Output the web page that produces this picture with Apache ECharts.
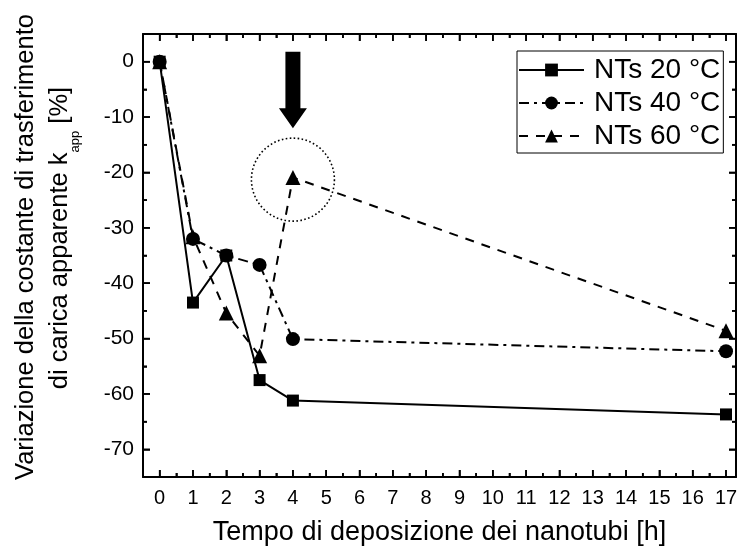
<!DOCTYPE html>
<html>
<head>
<meta charset="utf-8">
<script src="https://cdn.jsdelivr.net/npm/echarts@6/dist/echarts.min.js"></script>
<style>html,body{margin:0;padding:0;background:#fff}#c{width:739px;height:549px}</style>
</head>
<body>
<div id="c"></div>
<script>
// ---- data ----
var hours = [0, 1, 2, 3, 4, 17];
var nt20 = [0, -43.5, -35, -57.5, -61.2, -63.7];
var nt40 = [0, -32, -35, -36.7, -50.1, -52.3];
var nt60 = [0, -31.6, -45.4, -53.1, -20.9, -48.6];
var seriesNames = ['NTs 20 °C', 'NTs 40 °C', 'NTs 60 °C'];
var xMajor = [0,1,2,3,4,5,6,7,8,9,10,11,12,13,14,15,16,17];
var xMinor = [0.5,1.5,2.5,3.5,4.5,5.5,6.5,7.5,8.5,9.5,10.5,11.5,12.5,13.5,14.5,15.5,16.5];
var yMajor = [-70,-60,-50,-40,-30,-20,-10,0];
var yMinor = [-75,-65,-55,-45,-35,-25,-15,-5,5];
var arrowPt = [4, 1.8, -12];      // x, top value, tip value
var circlePt = [4, -21.3];        // highlighted point area

var FONT = 'Liberation Sans, Arial, sans-serif';
var chart = echarts.init(document.getElementById('c'));

function mk(arr, xs) { return xs.map(function (x, i) { return [x, arr[i]]; }); }

function xAx(pos, ticks, len, line, labels) {
  return {
    type: 'value', position: pos, min: -0.5, max: 17.3,
    axisLine: {show: line, onZero: false, lineStyle: {color: '#000', width: 2}},
    axisTick: {show: true, inside: true, length: len, customValues: ticks, lineStyle: {color: '#000', width: 1.6}},
    axisLabel: labels ? {show: true, customValues: ticks, color: '#000', fontSize: 20, fontFamily: FONT, margin: 11} : {show: false},
    splitLine: {show: false}
  };
}
function yAx(pos, ticks, len, line, labels) {
  return {
    type: 'value', position: pos, min: -75, max: 5,
    axisLine: {show: line, onZero: false, lineStyle: {color: '#000', width: 2}},
    axisTick: {show: true, inside: true, length: len, customValues: ticks, lineStyle: {color: '#000', width: 1.6}},
    axisLabel: labels ? {show: true, customValues: ticks, color: '#000', fontSize: 21, fontFamily: FONT, margin: 9} : {show: false},
    splitLine: {show: false}
  };
}

// tick marks on all four sides, positioned through the axes' own scale
function tickSeries(vals, len, dir) {
  return {
    type: 'custom', silent: true, z: 5, legendHoverLink: false,
    data: vals.map(function (v) { return dir === 'x' ? [v, 0] : [0, v]; }),
    renderItem: function (params, api) {
      var cs = params.coordSys;
      var st = {stroke: '#000', lineWidth: 1.6};
      if (dir === 'x') {
        var px = api.coord([api.value(0), 0])[0];
        var b = cs.y + cs.height, t = cs.y;
        return {type: 'group', children: [
          {type: 'line', shape: {x1: px, y1: b, x2: px, y2: b - len}, style: st},
          {type: 'line', shape: {x1: px, y1: t, x2: px, y2: t + len}, style: st}]};
      }
      var py = api.coord([0, api.value(1)])[1];
      var l = cs.x, r = cs.x + cs.width;
      return {type: 'group', children: [
        {type: 'line', shape: {x1: l, y1: py, x2: l + len, y2: py}, style: st},
        {type: 'line', shape: {x1: r, y1: py, x2: r - len, y2: py}, style: st}]};
    }
  };
}

var xa0 = xAx('bottom', xMajor, 7, true, true);
xa0.name = 'Tempo di deposizione dei nanotubi [h]';
xa0.nameLocation = 'middle';
xa0.nameGap = 42;
xa0.nameTextStyle = {color: '#000', fontSize: 27, fontFamily: FONT};

var option = {
  animation: false,
  grid: {left: 143, right: 3, top: 34, bottom: 72, outerBoundsMode: 'none', containLabel: false},
  xAxis: [xa0, xAx('bottom', xMinor, 4, false, false), xAx('top', xMajor, 7, true, false), xAx('top', xMinor, 4, false, false)],
  yAxis: [yAx('left', yMajor, 7, true, true), yAx('left', yMinor, 4, false, false), yAx('right', yMajor, 7, true, false), yAx('right', yMinor, 4, false, false)],
  legend: {
    orient: 'vertical', left: 517, top: 51,
    padding: [5, 3, 3, 1], itemGap: 5,
    itemWidth: 65, itemHeight: 16,
    borderColor: '#000', borderWidth: 1, borderRadius: 0,
    textStyle: {color: '#000', fontSize: 28, lineHeight: 28, fontFamily: FONT, padding: [0, 0, 0, 5]},
    data: seriesNames
  },
  graphic: [
    {type: 'text', z: 100, x: 26, y: 247, rotation: Math.PI / 2,
     style: {text: 'Variazione della costante di trasferimento', font: '25.5px ' + FONT, fill: '#000', align: 'center', verticalAlign: 'middle'}},
    {type: 'text', z: 100, x: 60, y: 238, rotation: Math.PI / 2,
     style: {text: 'di carica apparente k{sub|app} [%]', fontSize: 25.5, fontFamily: FONT, lineHeight: 44, fill: '#000', align: 'center', verticalAlign: 'middle',
       rich: {sub: {fontSize: 13, fontFamily: FONT, lineHeight: 13, fill: '#000', verticalAlign: 'bottom'}}}}
  ],
  series: [
    {name: seriesNames[0], type: 'line', data: mk(nt20, hours), symbol: 'rect', symbolSize: 12,
     lineStyle: {color: '#000', width: 2, type: 'solid'}, itemStyle: {color: '#000'}, z: 3},
    {name: seriesNames[1], type: 'line', data: mk(nt40, hours), symbol: 'circle', symbolSize: 14,
     lineStyle: {color: '#000', width: 2, type: [10, 5, 3, 5]}, itemStyle: {color: '#000'}, z: 2},
    {name: seriesNames[2], type: 'line', data: mk(nt60, hours), symbol: 'triangle', symbolSize: 15,
     lineStyle: {color: '#000', width: 2, type: [9, 8]}, itemStyle: {color: '#000'}, z: 1},
    tickSeries(xMajor, 7, 'x'), tickSeries(xMinor, 4, 'x'),
    tickSeries(yMajor, 7, 'y'), tickSeries(yMinor, 4, 'y'),
    {type: 'custom', data: [arrowPt], silent: true, z: 10,
     renderItem: function (params, api) {
       var t = api.coord([api.value(0), api.value(1)]);
       var b = api.coord([api.value(0), api.value(2)]);
       var cx = t[0], hs = b[1] - 20;
       return {type: 'polygon',
         shape: {points: [[cx - 7.5, t[1]], [cx + 7.5, t[1]], [cx + 7.5, hs], [cx + 14, hs], [cx, b[1]], [cx - 14, hs], [cx - 7.5, hs]]},
         style: {fill: '#000'}};
     }},
    {type: 'custom', data: [circlePt], silent: true, z: 10,
     renderItem: function (params, api) {
       var c = api.coord([api.value(0), api.value(1)]);
       return {type: 'circle', shape: {cx: c[0], cy: c[1], r: 41.5},
         style: {fill: 'none', stroke: '#000', lineWidth: 1.6, lineDash: [1.6, 2.4]}};
     }}
  ]
};
chart.setOption(option);
</script>
</body>
</html>
